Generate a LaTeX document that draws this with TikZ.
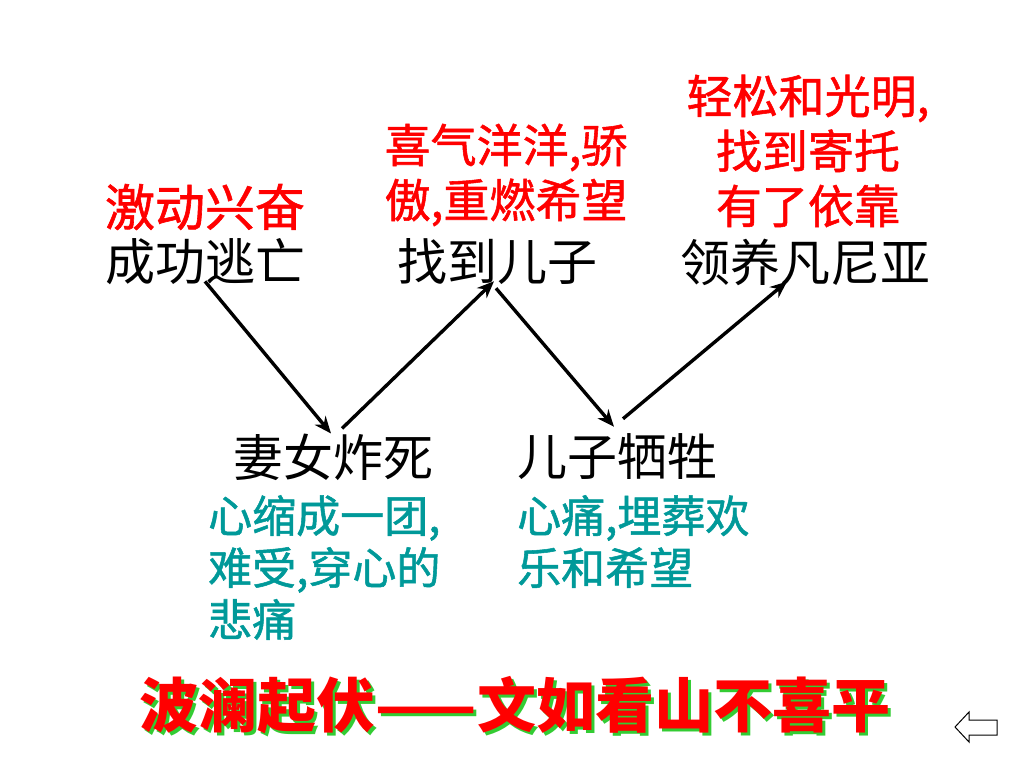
\documentclass[tikz,border=0pt]{standalone}
\usepackage{fontspec}
\setmainfont{Noto Sans CJK SC}
\newfontfamily\cjkmid[FakeBold=1.2]{Noto Sans CJK SC}
\usetikzlibrary{arrows.meta}
\definecolor{moodred}{RGB}{255,0,0}
\definecolor{painteal}{RGB}{0,153,153}
\definecolor{shadowgreen}{RGB}{51,204,51}
\tikzset{
  event/.style={inner sep=0pt,font=\fontsize{50}{56}\selectfont},
  joy/.style={inner sep=0pt,align=center,text=moodred,font=\cjkmid\fontsize{46}{55}\selectfont},
  grief/.style={inner sep=0pt,align=left,text=painteal,font=\cjkmid\fontsize{44}{52}\selectfont},
  turn/.style={->,line width=3.4pt},
  motto/.style={inner sep=0pt,font=\bfseries\fontsize{59}{64}\selectfont}
}
\begin{document}
\begin{tikzpicture}[>={Stealth[length=17pt,width=14pt]},x=1pt,y=-1pt]
	\useasboundingbox (0,0) rectangle (1024,768);
	% the events, up and down
	\node[event] (escape) at (205,262) {成功逃亡};
	\node[event] (son) at (497,262) {找到儿子};
	\node[event] (adopt) at (805,262) {领养凡尼亚};
	\node[event] (wife) at (333,457) {妻女炸死};
	\node[event] (sacrifice) at (617,457) {儿子牺牲};
	% feelings above
	\node[joy,font=\cjkmid\fontsize{50}{55}\selectfont] (excited) at (205,207) {激动兴奋};
	\node[joy] (proud) at (506,175) {喜气洋洋,骄\\傲,重燃希望};
	\node[joy] (relief) at (808,151) {轻松和光明,\\找到寄托\\有了依靠};
	% feelings below
	\node[grief,anchor=north west] (shrink) at (208,495) {心缩成一团,\\难受,穿心的\\悲痛};
	\node[grief,anchor=north west] (bury) at (517,495) {心痛,埋葬欢\\乐和希望};
	% the ups and downs
	\draw[turn] ([yshift=4pt]escape.south) -- ([xshift=-2pt]wife.north);
	\draw[turn] ([xshift=9pt,yshift=5pt]wife.north) -- ([xshift=-3pt,yshift=4pt]son.south);
	\draw[turn] ([xshift=-1pt,yshift=-3pt]son.south) -- ([xshift=-3pt,yshift=7pt]sacrifice.north);
	\draw[turn] ([xshift=6pt,yshift=15pt]sacrifice.north) -- ([xshift=-18pt,yshift=4pt]adopt.south);
	% motto with shadow
	\node[motto,text=shadowgreen] (mottoshadow) at (518,708) {波澜起伏——文如看山不喜平};
	\node[motto,text=moodred] (motto) at (515,705) {波澜起伏——文如看山不喜平};
	% back button
	\draw[line width=1pt] (955,727) -- (969,712) -- (969,720) -- (997,720) -- (997,735) -- (969,735) -- (969,742) -- cycle;
\end{tikzpicture}
\end{document}
